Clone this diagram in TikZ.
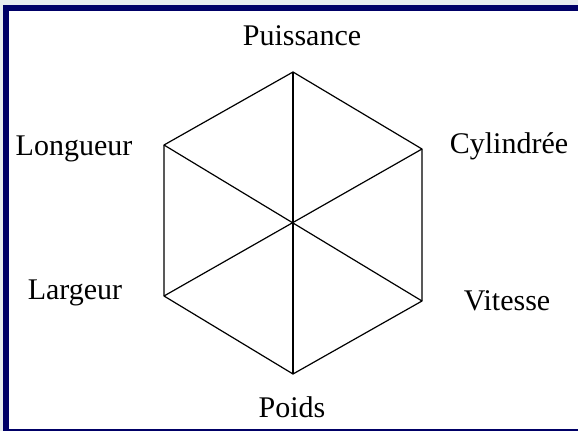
\documentclass[tikz,border=0pt]{standalone}
\usepackage{fontspec}
\setmainfont{Liberation Serif}
\definecolor{frameblue}{RGB}{0,0,102}
\definecolor{outside}{RGB}{232,236,238}
\begin{document}
\begin{tikzpicture}[x=1pt,y=-1pt,
  lab/.style={anchor=base,inner sep=0pt,font=\fontsize{30}{36}\selectfont},
  edge/.style={line width=1.2pt,line join=round}]
\useasboundingbox (0,0) rectangle (578,431);
\fill[outside] (0,0) rectangle (578,431);
\fill[frameblue] (3,5) rectangle (578,431);
\fill[white] (9,11) rectangle (578,429);
\coordinate (T) at (293,72);
\coordinate (UL) at (164,145);
\coordinate (UR) at (422,149);
\coordinate (C) at (293,223);
\coordinate (LL) at (164,296);
\coordinate (LR) at (422,301);
\coordinate (B) at (293,374);
\draw[edge] (T) -- (UR) -- (LR) -- (B) -- (LL) -- (UL) -- cycle;
\draw[edge] (T) -- (B);
\draw[edge] (UL) -- (LR);
\draw[edge] (UR) -- (LL);
\node[lab] (puissance) at (302,45) {Puissance};
\node[lab] (longueur) at (74,155) {Longueur};
\node[lab] (largeur) at (75,299) {Largeur};
\node[lab] (cylindree) at (509,153) {Cylindrée};
\node[lab] (vitesse) at (507,310) {Vitesse};
\node[lab] (poids) at (292,417) {Poids};
\end{tikzpicture}
\end{document}
